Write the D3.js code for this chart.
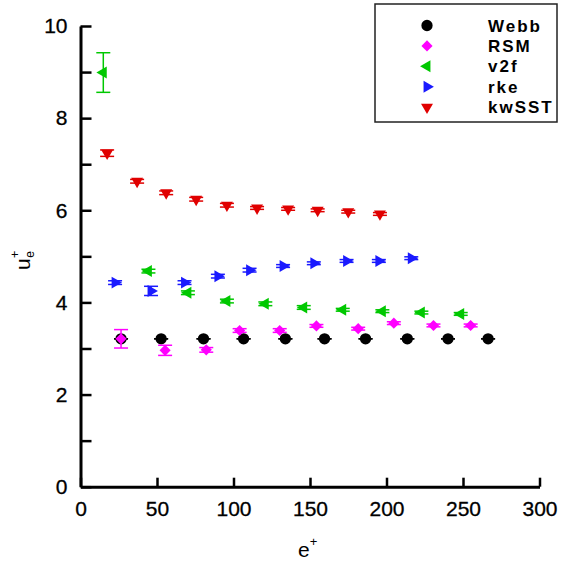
<!DOCTYPE html>
<html lang="en">
<head>
    <title>u_e+ vs e+</title>
    <style>
        body { margin: 0; background: #fff; }
        .chart text { font-family: "Liberation Sans", Arial, sans-serif; fill: #000; }
        .chart .domain { fill: none; stroke: #000; stroke-width: 3; }
        .chart .tick line { stroke: #000; stroke-width: 2.5; }
        .chart .tick text { font-size: 21px; stroke: #000; stroke-width: 0.3; }
        .legend text { font-size: 17px; font-weight: bold; letter-spacing: 2px; }
    </style>
</head>
<body>
<div id="chart"></div>

<script src="https://d3js.org/d3.v7.min.js"></script>
<script>
    // data
    var seriesNames = ["Webb", "RSM", "v2f", "rke", "kwSST"];

    var webbE = [26.5, 52.7, 80.4, 106.6, 133.9, 159.5, 186.3, 213.6, 240.2, 266.4];
    var webbU = [3.21, 3.21, 3.21, 3.21, 3.21, 3.21, 3.21, 3.21, 3.21, 3.21];
    var webbErr = [0, 0, 0, 0, 0, 0, 0, 0, 0, 0];

    var rsmE = [26.5, 55.3, 82.2, 104, 130.2, 154.2, 181.5, 204.8, 230.7, 255];
    var rsmU = [3.21, 2.96, 2.97, 3.39, 3.39, 3.49, 3.43, 3.55, 3.50, 3.50];
    var rsmErr = [0.2, 0.11, 0.05, 0.04, 0.04, 0.03, 0.03, 0.03, 0.03, 0.03];

    var v2fE = [14.9, 44.4, 70.2, 95.7, 120.8, 145.9, 171.4, 197.3, 222.8, 248.5];
    var v2fU = [8.99, 4.68, 4.21, 4.03, 3.97, 3.89, 3.84, 3.81, 3.78, 3.75];
    var v2fErr = [0.43, 0.04, 0.04, 0.04, 0.04, 0.04, 0.03, 0.03, 0.03, 0.03];

    var rkeE = [22.6, 46.1, 68, 89.8, 110.5, 132.4, 152.5, 173.9, 195, 216.2];
    var rkeU = [4.43, 4.25, 4.43, 4.57, 4.70, 4.79, 4.85, 4.90, 4.90, 4.96];
    var rkeErr = [0.04, 0.1, 0.04, 0.04, 0.04, 0.03, 0.03, 0.03, 0.03, 0.03];

    var kwE = [17.4, 37, 56, 75.6, 95.7, 115.4, 135.7, 155, 175, 195.7];
    var kwU = [7.24, 6.63, 6.38, 6.24, 6.11, 6.05, 6.03, 6.00, 5.97, 5.92];
    var kwErr = [0.07, 0.04, 0.04, 0.04, 0.04, 0.03, 0.03, 0.03, 0.03, 0.03];

    var xTicks = [0, 50, 100, 150, 200, 250, 300];
    var yTicks = [0, 1, 2, 3, 4, 5, 6, 7, 8, 9, 10];

    var styles = [
        {color: "#000000", shape: "circle"},
        {color: "#ff00ff", shape: "diamond"},
        {color: "#00c800", shape: "left"},
        {color: "#1a1aff", shape: "right"},
        {color: "#e00000", shape: "down"}
    ];

    var series = [
        {e: webbE, u: webbU, err: webbErr},
        {e: rsmE, u: rsmU, err: rsmErr},
        {e: v2fE, u: v2fU, err: v2fErr},
        {e: rkeE, u: rkeU, err: rkeErr},
        {e: kwE, u: kwU, err: kwErr}
    ];

    var width = 561, height = 563;
    var margin = {top: 26, left: 80.5, right: 21.5, bottom: 76.3};
    var w = width - margin.left - margin.right,
        h = height - margin.top - margin.bottom;

    var svg = d3.select("#chart").append("svg")
        .attr("class", "chart")
        .attr("width", width).attr("height", height);
    var g = svg.append("g").attr("transform", "translate(" + margin.left + "," + margin.top + ")");

    var x = d3.scaleLinear().domain([0, 300]).range([0, w]);
    var y = d3.scaleLinear().domain([0, 10]).range([h, 0]);

    g.append("g").attr("transform", "translate(0," + h + ")")
        .call(d3.axisBottom(x).tickValues(xTicks).tickSizeInner(-9).tickSizeOuter(0).tickPadding(14));
    g.append("g")
        .call(d3.axisLeft(y).tickValues(yTicks).tickSizeInner(-11).tickSizeOuter(0).tickPadding(13)
            .tickFormat(function (d) { return d % 2 === 0 ? d : ""; }));
    g.selectAll(".tick text").attr("font-family", null).attr("font-size", null);

    function markerPath(shape) {
        if (shape === "circle") return d3.symbol(d3.symbolCircle, 100)();
        if (shape === "diamond") return d3.symbol(d3.symbolSquare, 62)();
        return d3.symbol(d3.symbolTriangle, 62)();
    }
    function markerRotate(shape) {
        if (shape === "diamond") return 45;
        if (shape === "left") return -90;
        if (shape === "right") return 90;
        if (shape === "down") return 180;
        return 0;
    }

    series.forEach(function (s, k) {
        var st = styles[k];
        var pts = s.e.map(function (e, i) { return {e: e, u: s.u[i], err: s.err[i]}; });
        var sg = g.append("g");

        // error bars
        var eb = sg.selectAll(".err").data(pts).enter().append("g")
            .attr("stroke", st.color).attr("stroke-width", 1.5);
        eb.append("line")
            .attr("x1", function (d) { return x(d.e); }).attr("x2", function (d) { return x(d.e); })
            .attr("y1", function (d) { return y(d.u + d.err); }).attr("y2", function (d) { return y(d.u - d.err); });
        eb.append("line")
            .attr("x1", function (d) { return x(d.e) - 7; }).attr("x2", function (d) { return x(d.e) + 7; })
            .attr("y1", function (d) { return y(d.u + d.err); }).attr("y2", function (d) { return y(d.u + d.err); });
        eb.append("line")
            .attr("x1", function (d) { return x(d.e) - 7; }).attr("x2", function (d) { return x(d.e) + 7; })
            .attr("y1", function (d) { return y(d.u - d.err); }).attr("y2", function (d) { return y(d.u - d.err); });

        sg.selectAll(".mk").data(pts).enter().append("path")
            .attr("d", markerPath(st.shape))
            .attr("fill", st.color)
            .attr("transform", function (d) {
                return "translate(" + x(d.e) + "," + y(d.u) + ") rotate(" + markerRotate(st.shape) + ")";
            });
    });

    // legend
    var lg = svg.append("g").attr("class", "legend");
    lg.append("rect").attr("x", 375).attr("y", 4).attr("width", 182).attr("height", 118)
        .attr("fill", "#fff").attr("stroke", "#222").attr("stroke-width", 1.5);
    seriesNames.forEach(function (name, k) {
        var yy = 25.5 + k * 20.4;
        lg.append("path").attr("d", markerPath(styles[k].shape)).attr("fill", styles[k].color)
            .attr("transform", "translate(427," + yy + ") rotate(" + markerRotate(styles[k].shape) + ")");
        lg.append("text").attr("x", 488).attr("y", yy + 6).text(name);
    });

    // axis titles
    var xt = svg.append("text").attr("x", 298).attr("y", 557).attr("font-size", 21);
    xt.append("tspan").text("e");
    xt.append("tspan").attr("font-size", 13).attr("dy", -11).text("+");

    var yt = svg.append("text").attr("transform", "translate(30,270) rotate(-90)").attr("font-size", 21);
    yt.append("tspan").text("u");
    yt.append("tspan").attr("font-size", 13).attr("dy", -11).text("+");
    yt.append("tspan").attr("font-size", 12).attr("dx", -7).attr("dy", 15).text("e");
</script>
</body>
</html>
